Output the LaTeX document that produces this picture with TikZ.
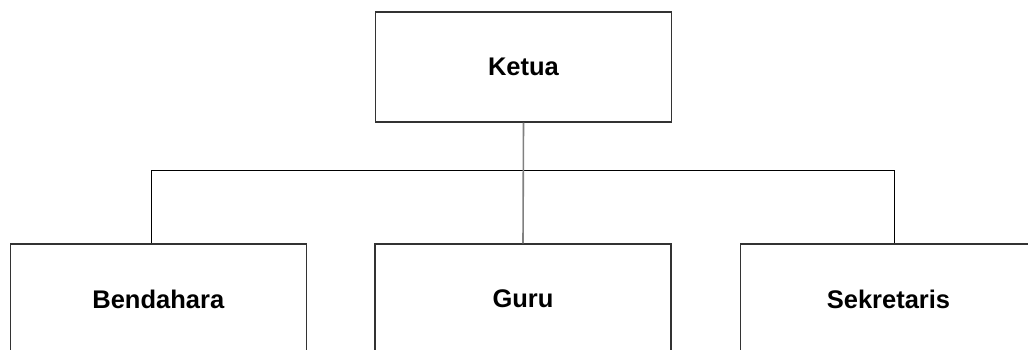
\documentclass[tikz,border=0pt]{standalone}
\usepackage{fontspec}
\setmainfont{Liberation Sans}
\begin{document}
\begin{tikzpicture}[x=1pt,y=-1pt,
  box/.style={draw=black!80,line width=1.2pt,minimum width=296pt,minimum height=110pt,inner sep=0pt,font=\fontsize{25.5}{29}\selectfont\bfseries,fill=white},
  link/.style={draw=black,line width=1pt},
  mainlink/.style={draw=black!50,line width=1.6pt}]
\useasboundingbox (0,0) rectangle (1028,349);
\clip (0,0) rectangle (1028,349);
\node[box] (ketua) at (523.5,67) {Ketua};
\node[box] (bend) at (158.3,299) {Bendahara};
\node[box] (guru) at (523,299) {Guru};
\node[box] (sek) at (888.5,299) {Sekretaris};
\draw[link] ([xshift=-6.6pt]bend.north) |- ([xshift=5.5pt,yshift=73pt]sek.north) -- ([xshift=5.5pt]sek.north);
\draw[mainlink] (ketua.south) -- (guru.north);
\end{tikzpicture}
\end{document}
